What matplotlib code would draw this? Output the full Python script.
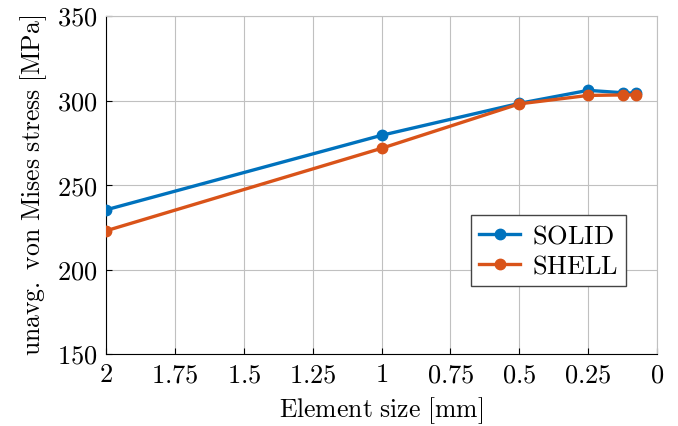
import matplotlib
matplotlib.use("Agg")
import matplotlib.pyplot as plt

plt.rcParams['mathtext.fontset'] = 'cm'
plt.rcParams['font.family'] = ['DejaVu Serif']

element_size = [2, 1, 0.5, 0.25, 0.125, 0.075]
solid = [235.3, 279.4, 298.3, 306.0, 304.6, 304.3]
shell = [222.9, 271.7, 298.0, 303.0, 303.3, 303.3]
xticks = [2, 1.75, 1.5, 1.25, 1, 0.75, 0.5, 0.25, 0]
yticks = [150, 200, 250, 300, 350]

fig = plt.figure(figsize=(6.78, 4.26), dpi=100)
ax = fig.add_axes([106/678, 1-354/426, (657-106)/678, (354-16)/426])

blue = '#0072BD'
orange = '#D95319'
ax.plot(element_size, solid, '-o', color=blue, lw=2.4, ms=7.5, label=r'$\mathrm{SOLID}$', zorder=3)
ax.plot(element_size, shell, '-o', color=orange, lw=2.4, ms=7.5, label=r'$\mathrm{SHELL}$', zorder=4)

ax.set_xlim(2, 0)
ax.set_ylim(150, 350)
ax.set_xticks(xticks)
ax.set_xticklabels([f'${t:g}$' for t in xticks])
ax.set_yticks(yticks)
ax.set_yticklabels([f'${t}$' for t in yticks])
ax.tick_params(direction='in', length=4, labelsize=19, pad=6)
ax.grid(True, color='#c0c0c0', lw=0.8)
ax.set_axisbelow(True)
for s in ['top', 'right']:
    ax.spines[s].set_color('#c0c0c0')
ax.tick_params(top=False, right=False)

ax.set_xlabel(r'$\mathrm{Element\ size\ [mm]}$', fontsize=18.5, labelpad=6)
ax.set_ylabel(r'$\mathrm{unavg.\ von\ Mises\ stress\ [MPa]}$', fontsize=18.5, labelpad=6)

leg = ax.legend(loc='lower right', bbox_to_anchor=(0.944, 0.2), fontsize=19,
                fancybox=False, framealpha=1, edgecolor='#444444',
                handlelength=1.55, handletextpad=0.45, borderpad=0.3, labelspacing=0.2,
                borderaxespad=0)
leg.get_frame().set_linewidth(1.0)

fig.savefig('out.png', dpi=100)
